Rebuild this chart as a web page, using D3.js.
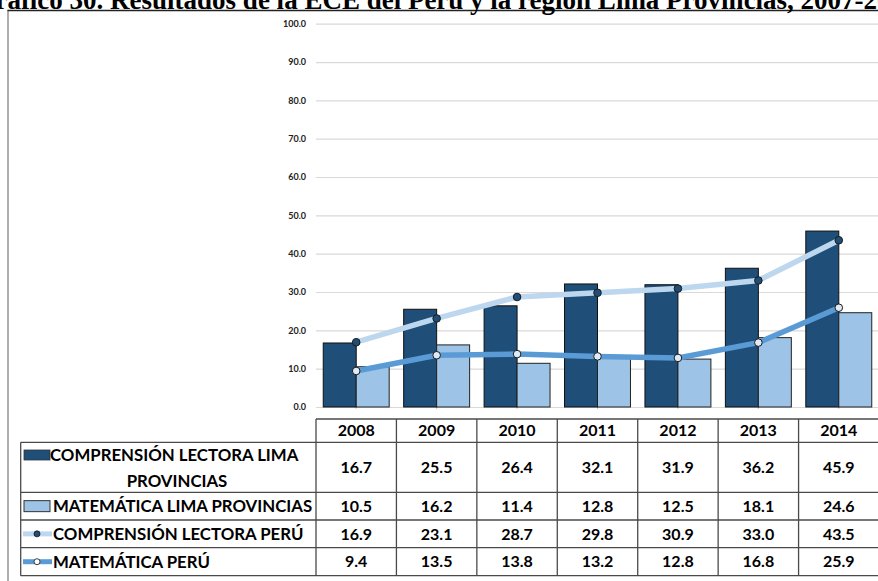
<!DOCTYPE html>
<html>
<head>
<meta charset="utf-8">
<script src="https://cdn.jsdelivr.net/npm/d3@7"></script>
<style>
  html, body { margin: 0; padding: 0; background: #fff; }
  svg { display: block; }
</style>
</head>
<body>
<svg id="chart" width="878" height="581"></svg>
<script>
// ECE results: Lima Provincias vs Perú
const years = ["2008", "2009", "2010", "2011", "2012", "2013", "2014"];
const clLima = [16.7, 25.5, 26.4, 32.1, 31.9, 36.2, 45.9];
const matLima = [10.5, 16.2, 11.4, 12.8, 12.5, 18.1, 24.6];
const clPeru = [16.9, 23.1, 28.7, 29.8, 30.9, 33.0, 43.5];
const matPeru = [9.4, 13.5, 13.8, 13.2, 12.8, 16.8, 25.9];
const yTicks = [0, 10, 20, 30, 40, 50, 60, 70, 80, 90, 100];
const seriesLabels = [
  ["COMPRENSIÓN LECTORA LIMA", "PROVINCIAS"],
  ["MATEMÁTICA LIMA PROVINCIAS"],
  ["COMPRENSIÓN LECTORA PERÚ"],
  ["MATEMÁTICA PERÚ"]
];
const titleText = "Gráfico 30. Resultados de la ECE del Perú y la región Lima Provincias, 2007-2014";

const C = {
  darkBar: "#1f4e79",
  lightBar: "#9dc3e6",
  clLine: "#bdd7ee",
  matLine: "#5b9bd5",
  matDot: "#deebf7",
  grid: "#d9d9d9",
  table: "#4a4a4a"
};
const FONT = "Lato, 'Open Sans', sans-serif";

const svg = d3.select("#chart");

// frame
svg.append("line").attr("x1", 8).attr("x2", 8).attr("y1", 10).attr("y2", 581)
  .attr("stroke", "#9a9a9a").attr("stroke-width", 1.6);
svg.append("line").attr("x1", 7.5).attr("x2", 878).attr("y1", 10.5).attr("y2", 10.5)
  .attr("stroke", "#222").attr("stroke-width", 1.4);

// title (wider than the page, centred on it)
svg.append("text")
  .attr("x", 446).attr("y", 9)
  .attr("text-anchor", "middle")
  .attr("font-family", "'Liberation Serif', 'Times New Roman', serif")
  .attr("font-weight", "bold")
  .attr("font-size", 27)
  .attr("fill", "#000")
  .text(titleText);

// scales
const x = d3.scaleBand().domain(years).range([316, 879]);
const x1 = d3.scaleBand().domain(["cl", "mat"]).range([x.bandwidth() * 0.09, x.bandwidth() * 0.91]);
const y = d3.scaleLinear().domain([0, 100]).range([407, 23.7]);

// gridlines + y labels
const yAxis = svg.append("g")
  .attr("transform", "translate(316,0)")
  .call(d3.axisLeft(y).tickValues(yTicks).tickFormat(d3.format(".1f"))
    .tickSize(-(878 - 316)).tickPadding(10));
yAxis.select(".domain").remove();
yAxis.selectAll(".tick line").attr("stroke", C.grid).attr("stroke-width", 1.2);
yAxis.selectAll(".tick text")
  .attr("font-family", FONT).attr("font-weight", "bold").attr("font-size", 9).attr("fill", "#222");

// faint category ticks under the baseline
const xAxis = svg.append("g")
  .attr("transform", `translate(0,${y(0)})`)
  .call(d3.axisBottom(x).tickSize(2).tickFormat(""));
xAxis.select(".domain").remove();
xAxis.selectAll(".tick line").attr("stroke", "#ccc");

// bars
const groups = svg.append("g").selectAll("g")
  .data(years)
  .join("g")
  .attr("transform", d => `translate(${x(d)},0)`);

groups.append("rect")
  .attr("x", x1("cl"))
  .attr("width", x1.bandwidth())
  .attr("y", (d, i) => y(clLima[i]))
  .attr("height", (d, i) => y(0) - y(clLima[i]))
  .attr("fill", C.darkBar).attr("stroke", "#111").attr("stroke-width", 1);

groups.append("rect")
  .attr("x", x1("mat"))
  .attr("width", x1.bandwidth())
  .attr("y", (d, i) => y(matLima[i]))
  .attr("height", (d, i) => y(0) - y(matLima[i]))
  .attr("fill", C.lightBar).attr("stroke", "#222").attr("stroke-width", 1);

// lines
const cx = d => x(d) + x.bandwidth() / 2;
const line = d3.line().x(d => cx(d.year)).y(d => y(d.v));

function drawSeries(values, stroke, dotFill) {
  const pts = years.map((yr, i) => ({ year: yr, v: values[i] }));
  svg.append("path").datum(pts)
    .attr("d", line)
    .attr("fill", "none").attr("stroke", stroke).attr("stroke-width", 5.5)
    .attr("stroke-linejoin", "round");
  svg.append("g").selectAll("circle").data(pts).join("circle")
    .attr("cx", d => cx(d.year)).attr("cy", d => y(d.v)).attr("r", 3.8)
    .attr("fill", dotFill).attr("stroke", "#1a1a1a").attr("stroke-width", 1);
}
drawSeries(clPeru, C.clLine, C.darkBar);
drawSeries(matPeru, C.matLine, C.matDot);

// data table
const rowEdges = [419, 442.3, 492.3, 520, 547.7, 575.7];
const tableLeft = 20.7, tableRight = 879, legendRight = 316;
const tbl = svg.append("g");

tbl.append("line").attr("x1", legendRight).attr("x2", tableRight)
  .attr("y1", rowEdges[0]).attr("y2", rowEdges[0]);
rowEdges.slice(1).forEach(ry => {
  tbl.append("line").attr("x1", tableLeft).attr("x2", tableRight).attr("y1", ry).attr("y2", ry);
});
tbl.append("line").attr("x1", tableLeft).attr("x2", tableLeft)
  .attr("y1", rowEdges[1]).attr("y2", rowEdges[5]);
years.forEach(yr => {
  tbl.append("line").attr("x1", x(yr)).attr("x2", x(yr))
    .attr("y1", rowEdges[0]).attr("y2", rowEdges[5]);
});
tbl.selectAll("line").attr("stroke", C.table).attr("stroke-width", 1.3);

const cellText = (g, tx, ty, s, anchor, size) => g.append("text")
  .attr("x", tx).attr("y", ty).attr("dy", "0.36em")
  .attr("text-anchor", anchor || "middle")
  .attr("font-family", FONT).attr("font-weight", "bold").attr("font-size", size || 16).attr("fill", "#000")
  .text(s);

// header years
years.forEach(yr => cellText(tbl, cx(yr), (rowEdges[0] + rowEdges[1]) / 2, yr));

// values
const tableSeries = [clLima, matLima, clPeru, matPeru];
tableSeries.forEach((vals, r) => {
  const mid = (rowEdges[r + 1] + rowEdges[r + 2]) / 2;
  years.forEach((yr, i) => cellText(tbl, cx(yr), mid, d3.format(".1f")(vals[i])));
});

// legend keys
const mid = r => (rowEdges[r + 1] + rowEdges[r + 2]) / 2;
tbl.append("rect").attr("x", 24).attr("y", 450).attr("width", 26).attr("height", 10)
  .attr("fill", C.darkBar).attr("stroke", "#333").attr("stroke-width", 0.8);
tbl.append("rect").attr("x", 24).attr("y", mid(1) - 5.5).attr("width", 26).attr("height", 11)
  .attr("fill", C.lightBar).attr("stroke", "#333").attr("stroke-width", 1);
tbl.append("line").attr("x1", 23).attr("x2", 52).attr("y1", mid(2)).attr("y2", mid(2))
  .attr("stroke", C.clLine).attr("stroke-width", 5);
tbl.append("circle").attr("cx", 37).attr("cy", mid(2)).attr("r", 3)
  .attr("fill", C.darkBar).attr("stroke", "#111").attr("stroke-width", 0.8);
tbl.append("line").attr("x1", 23).attr("x2", 52).attr("y1", mid(3)).attr("y2", mid(3))
  .attr("stroke", C.matLine).attr("stroke-width", 5);
tbl.append("circle").attr("cx", 37).attr("cy", mid(3)).attr("r", 3)
  .attr("fill", "#fff").attr("stroke", "#111").attr("stroke-width", 0.8);

// legend labels
const LS = 16.8;
cellText(tbl, 50, 455, seriesLabels[0][0], "start", LS);
cellText(tbl, 177, 481, seriesLabels[0][1], "middle", LS);
cellText(tbl, 53, mid(1), seriesLabels[1][0], "start", LS);
cellText(tbl, 53, mid(2), seriesLabels[2][0], "start", LS);
cellText(tbl, 53, mid(3), seriesLabels[3][0], "start", LS);
</script>
</body>
</html>
